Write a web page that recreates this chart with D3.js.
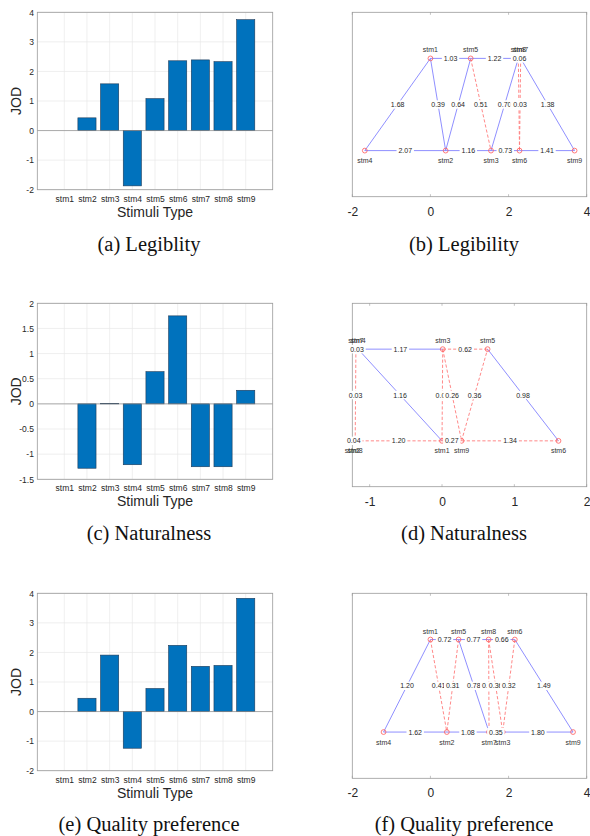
<!DOCTYPE html>
<html>
<head>
<meta charset="utf-8">
<script src="https://cdn.jsdelivr.net/npm/d3@7"></script>
<style>
  body { margin: 0; background: #fff; }
  svg { display: block; }
</style>
</head>
<body>
<script>
const stimuli = ["stm1", "stm2", "stm3", "stm4", "stm5", "stm6", "stm7", "stm8", "stm9"]

// JOD per stimulus (bar charts)
const legibilityJOD = [0, 0.43, 1.58, -1.87, 1.08, 2.36, 2.39, 2.33, 3.75]
const naturalnessJOD = [0, -1.28, 0.01, -1.21, 0.64, 1.75, -1.25, -1.25, 0.27]
const qualityJOD = [0, 0.45, 1.91, -1.24, 0.78, 2.24, 1.53, 1.56, 3.83]

const legibilityTicks = [-2, -1, 0, 1, 2, 3, 4]
const naturalnessTicks = [-1.5, -1, -0.5, 0, 0.5, 1, 1.5, 2]
const qualityTicks = [-2, -1, 0, 1, 2, 3, 4]

// graph plots: node position on the JOD scale, row (1 upper, 0 lower)
const legibilityPos = [0, 0.39, 1.55, -1.68, 1.03, 2.28, 2.31, 2.25, 3.69]
const legibilityRow = [1, 0, 0, 0, 1, 0, 1, 1, 0]
const naturalnessPos = [0, -1.24, 0.01, -1.16, 0.63, 1.61, -1.19, -1.20, 0.27]
const naturalnessRow = [0, 0, 1, 1, 1, 0, 1, 0, 0]
const qualityPos = [0, 0.42, 1.85, -1.20, 0.72, 2.16, 1.50, 1.49, 3.65]
const qualityRow = [1, 0, 0, 0, 1, 1, 0, 1, 0]

// edges: [from, to, distance label, significant]
const legibilityEdges = [
    ["stm1", "stm4", "1.68", 1],
    ["stm1", "stm5", "1.03", 1],
    ["stm5", "stm8", "1.22", 1],
    ["stm8", "stm7", "0.06", 1],
    ["stm1", "stm2", "0.39", 1],
    ["stm5", "stm2", "0.64", 1],
    ["stm5", "stm3", "0.51", 0],
    ["stm3", "stm8", "0.70", 1],
    ["stm8", "stm6", "0.03", 0],
    ["stm7", "stm6", "0.03", 0],
    ["stm7", "stm9", "1.38", 1],
    ["stm4", "stm2", "2.07", 1],
    ["stm2", "stm3", "1.16", 1],
    ["stm3", "stm6", "0.73", 1],
    ["stm6", "stm9", "1.41", 1],
]
const naturalnessEdges = [
    ["stm4", "stm7", "0.03", 0],
    ["stm7", "stm8", "0.03", 0],
    ["stm4", "stm3", "1.17", 1],
    ["stm4", "stm1", "1.16", 1],
    ["stm2", "stm8", "0.04", 0],
    ["stm8", "stm1", "1.20", 0],
    ["stm3", "stm1", "0.01", 0],
    ["stm3", "stm9", "0.26", 0],
    ["stm3", "stm5", "0.62", 0],
    ["stm1", "stm9", "0.27", 0],
    ["stm9", "stm5", "0.36", 0],
    ["stm5", "stm6", "0.98", 1],
    ["stm9", "stm6", "1.34", 0],
]
const qualityEdges = [
    ["stm1", "stm5", "0.72", 1],
    ["stm5", "stm8", "0.77", 1],
    ["stm8", "stm6", "0.66", 1],
    ["stm1", "stm4", "1.20", 1],
    ["stm1", "stm2", "0.41", 0],
    ["stm5", "stm2", "0.31", 0],
    ["stm5", "stm7", "0.78", 1],
    ["stm8", "stm7", "0.01", 0],
    ["stm8", "stm3", "0.36", 0],
    ["stm6", "stm3", "0.32", 0],
    ["stm6", "stm9", "1.49", 1],
    ["stm4", "stm2", "1.62", 1],
    ["stm2", "stm7", "1.08", 1],
    ["stm7", "stm3", "0.35", 1],
    ["stm3", "stm9", "1.80", 1],
]

const graphTicksWide = [-2, 0, 2, 4]
const graphTicksNarrow = [-1, 0, 1, 2]

const captions = [
    ["(a) Legiblity", "(b) Legibility"],
    ["(c) Naturalness", "(d) Naturalness"],
    ["(e) Quality preference", "(f) Quality preference"],
]

const SANS = "'Liberation Sans', Arial, sans-serif"
const SERIF = "'Liberation Serif', 'Times New Roman', serif"
const INK = "#262626"

const rowTop = [12.3, 303.3, 593.3]
const barBottom = [189.7, 479.3, 770.7]
const graphBottom = [196.7, 486.7, 778.3]
const captionY = [251, 540, 831]

const svg = d3.select("body").append("svg")
    .attr("width", 590)
    .attr("height", 836)

function barPanel(r, values, ticks) {
    const top = rowTop[r], bottom = barBottom[r]
    const left = 37.3, right = 272.7
    const x = d3.scaleLinear().domain([-1.19, stimuli.length - 1 + 1.19]).range([left, right])
    const y = d3.scaleLinear().domain(d3.extent(ticks)).range([bottom, top])
    const g = svg.append("g")

    g.selectAll(".gx").data(stimuli).join("line")
        .attr("x1", (d, i) => x(i)).attr("x2", (d, i) => x(i))
        .attr("y1", top).attr("y2", bottom)
        .attr("stroke", "#e8e8e8").attr("stroke-width", 0.7)
    g.selectAll(".gy").data(ticks).join("line")
        .attr("x1", left).attr("x2", right)
        .attr("y1", d => y(d)).attr("y2", d => y(d))
        .attr("stroke", "#e8e8e8").attr("stroke-width", 0.7)

    g.append("g").selectAll("rect").data(values).join("rect")
        .attr("x", (d, i) => x(i - 0.4))
        .attr("width", x(0.4) - x(-0.4))
        .attr("y", d => y(Math.max(0, d)))
        .attr("height", d => Math.abs(y(d) - y(0)))
        .attr("fill", "#0072BD")
        .attr("stroke", "#1d3a58")
        .attr("stroke-width", 0.6)

    g.append("line")
        .attr("x1", left).attr("x2", right)
        .attr("y1", y(0)).attr("y2", y(0))
        .attr("stroke", "#8c8c8c").attr("stroke-width", 0.7)

    g.append("rect")
        .attr("x", left).attr("y", top)
        .attr("width", right - left).attr("height", bottom - top)
        .attr("fill", "none").attr("stroke", "#9a9a9a").attr("stroke-width", 0.8)

    const yAxis = g.append("g")
        .attr("transform", `translate(${left},0)`)
        .call(d3.axisLeft(y).tickValues(ticks).tickSize(0).tickPadding(3.4).tickFormat(d => String(d)))
    const xAxis = g.append("g")
        .attr("transform", `translate(0,${bottom})`)
        .call(d3.axisBottom(x).tickValues(d3.range(stimuli.length)).tickSize(0).tickPadding(6).tickFormat(i => stimuli[i]))
    for (const ax of [yAxis, xAxis]) {
        ax.select(".domain").remove()
        ax.selectAll("text")
            .attr("fill", INK)
            .style("font-family", SANS)
            .style("font-size", "8.5px")
    }

    g.append("text")
        .attr("transform", `translate(20.5,${(top + bottom) / 2}) rotate(-90)`)
        .attr("text-anchor", "middle")
        .attr("fill", INK)
        .style("font-family", SANS)
        .style("font-size", "14px")
        .text("JOD")

    g.append("text")
        .attr("x", (left + right) / 2)
        .attr("y", bottom + 27)
        .attr("text-anchor", "middle")
        .attr("fill", INK)
        .style("font-family", SANS)
        .style("font-size", "14px")
        .text("Stimuli Type")
}

function graphPanel(r, pos, row, edges, domain, ticks) {
    const top = rowTop[r], bottom = graphBottom[r]
    const left = 352.3, right = 586.7
    const x = d3.scaleLinear().domain(domain).range([left, right])
    const y = d3.scaleLinear().domain([-0.5, 1.5]).range([bottom, top])
    const at = name => {
        const k = stimuli.indexOf(name)
        return [x(pos[k]), y(row[k])]
    }
    const g = svg.append("g")

    g.append("rect")
        .attr("x", left).attr("y", top)
        .attr("width", right - left).attr("height", bottom - top)
        .attr("fill", "none").attr("stroke", "#9a9a9a").attr("stroke-width", 0.8)

    // inner tick marks, bottom and top
    g.selectAll(".tb").data(ticks).join("line")
        .attr("x1", d => x(d)).attr("x2", d => x(d))
        .attr("y1", bottom).attr("y2", bottom - 2.5)
        .attr("stroke", "#9a9a9a").attr("stroke-width", 0.6)
    g.selectAll(".tt").data(ticks).join("line")
        .attr("x1", d => x(d)).attr("x2", d => x(d))
        .attr("y1", top).attr("y2", top + 2.5)
        .attr("stroke", "#9a9a9a").attr("stroke-width", 0.6)

    const xAxis = g.append("g")
        .attr("transform", `translate(0,${bottom})`)
        .call(d3.axisBottom(x).tickValues(ticks).tickSize(0).tickPadding(10.5).tickFormat(d => String(d)))
    xAxis.select(".domain").remove()
    xAxis.selectAll("text")
        .attr("fill", INK)
        .style("font-family", SANS)
        .style("font-size", "12px")

    g.append("g").selectAll("line").data(edges).join("line")
        .attr("x1", d => at(d[0])[0]).attr("y1", d => at(d[0])[1])
        .attr("x2", d => at(d[1])[0]).attr("y2", d => at(d[1])[1])
        .attr("stroke", d => d[3] ? "#8282ff" : "#ff7c7c")
        .attr("stroke-width", 0.9)
        .attr("stroke-dasharray", d => d[3] ? null : "3.2,2")

    g.append("g").selectAll("circle").data(stimuli).join("circle")
        .attr("cx", d => at(d)[0]).attr("cy", d => at(d)[1])
        .attr("r", 2.4)
        .attr("fill", "none")
        .attr("stroke", "#ff5a5a")
        .attr("stroke-width", 0.8)

    const labels = g.append("g").selectAll("g").data(edges).join("g")
        .attr("transform", d => {
            const [x1, y1] = at(d[0]), [x2, y2] = at(d[1])
            return `translate(${(x1 + x2) / 2},${(y1 + y2) / 2})`
        })
    labels.append("rect")
        .attr("x", -8.7).attr("y", -4.2)
        .attr("width", 17.4).attr("height", 8.4)
        .attr("fill", "#fff")
    labels.append("text")
        .attr("text-anchor", "middle")
        .attr("y", 2.5)
        .attr("fill", INK)
        .style("font-family", SANS)
        .style("font-size", "7px")
        .text(d => d[2])

    g.append("g").selectAll("text").data(stimuli).join("text")
        .attr("x", d => at(d)[0])
        .attr("y", d => at(d)[1] + (row[stimuli.indexOf(d)] ? -6 : 12.5))
        .attr("text-anchor", "middle")
        .attr("fill", "#333")
        .style("font-family", SANS)
        .style("font-size", "7px")
        .text(d => d)
}

barPanel(0, legibilityJOD, legibilityTicks)
barPanel(1, naturalnessJOD, naturalnessTicks)
barPanel(2, qualityJOD, qualityTicks)

graphPanel(0, legibilityPos, legibilityRow, legibilityEdges, [-2, 4], graphTicksWide)
graphPanel(1, naturalnessPos, naturalnessRow, naturalnessEdges, [-1.24, 2], graphTicksNarrow)
graphPanel(2, qualityPos, qualityRow, qualityEdges, [-2, 4], graphTicksWide)

captions.forEach((pair, r) => {
    svg.append("g").selectAll("text").data(pair).join("text")
        .attr("x", (d, i) => i ? 464 : 149)
        .attr("y", captionY[r])
        .attr("text-anchor", "middle")
        .attr("fill", "#111")
        .style("font-family", SERIF)
        .style("font-size", "20.5px")
        .text(d => d)
})
</script>
</body>
</html>
